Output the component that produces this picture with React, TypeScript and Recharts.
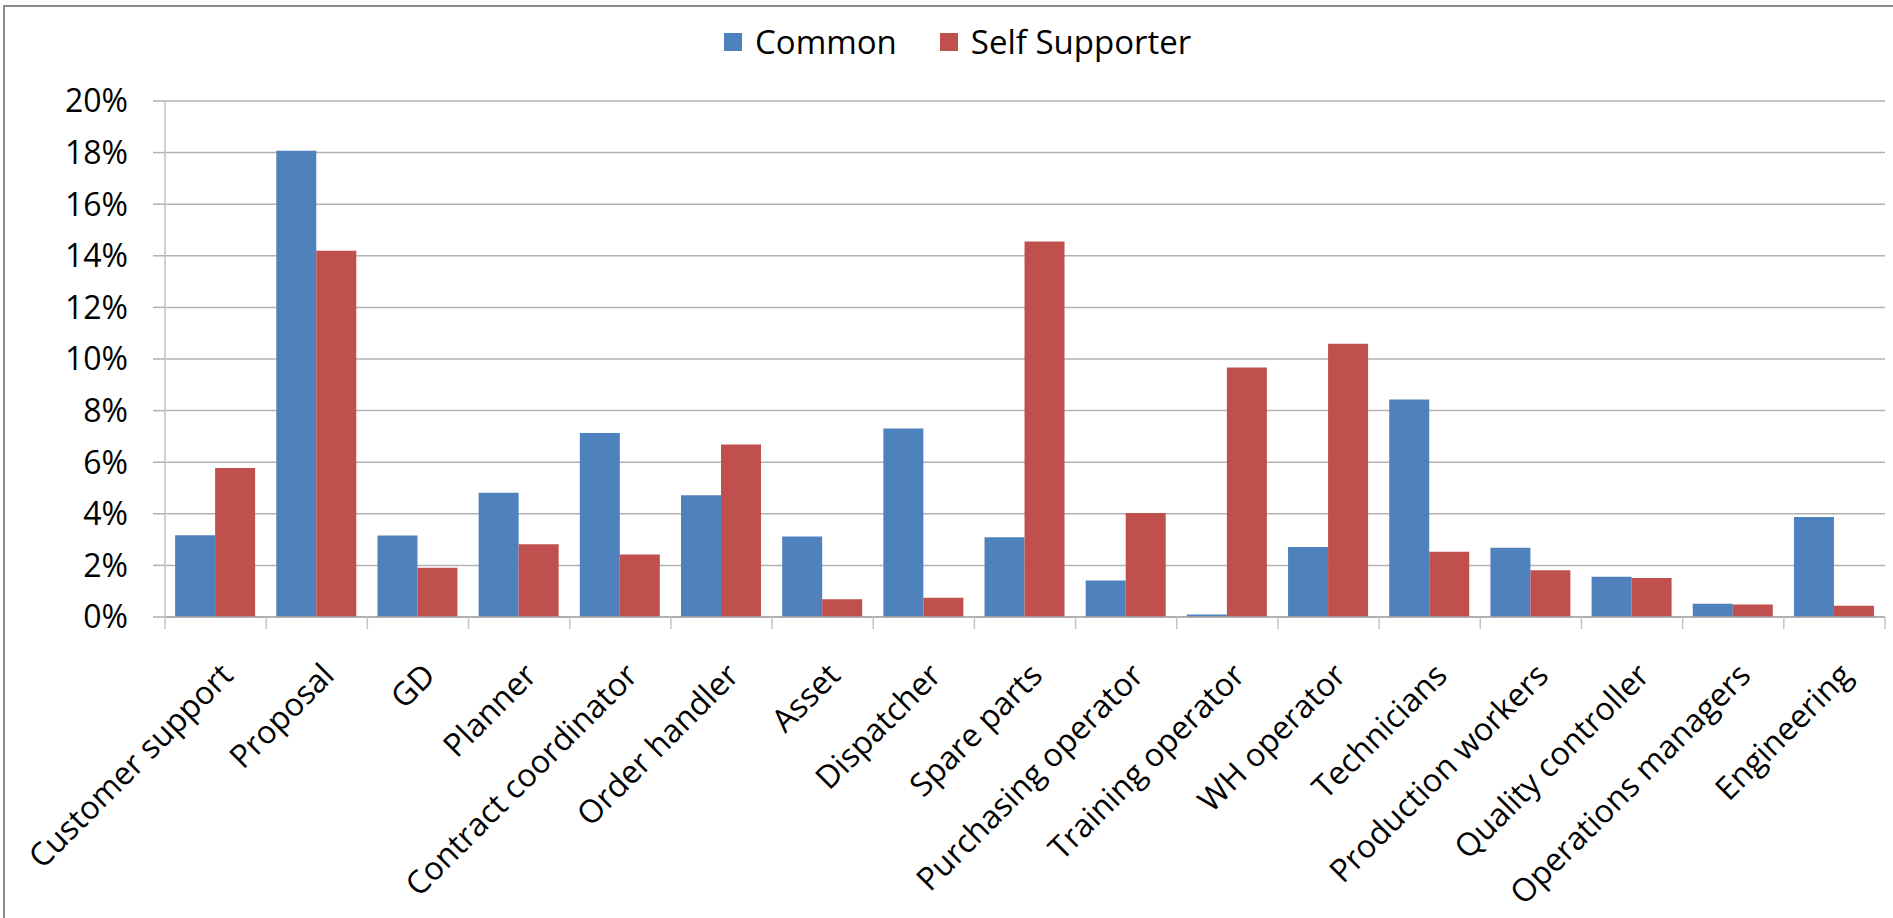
import React from "react";
import { BarChart, Bar, XAxis, YAxis, CartesianGrid, Legend } from "recharts";

const categories = [
  "Customer support",
  "Proposal",
  "GD",
  "Planner",
  "Contract coordinator",
  "Order handler",
  "Asset",
  "Dispatcher",
  "Spare parts",
  "Purchasing operator",
  "Training operator",
  "WH operator",
  "Technicians",
  "Production workers",
  "Quality controller",
  "Operations managers",
  "Engineering",
];
const commonValues = [3.17, 18.07, 3.16, 4.82, 7.13, 4.72, 3.12, 7.31, 3.09, 1.41, 0.1, 2.71, 8.43, 2.68, 1.56, 0.51, 3.88];
const selfSupporterValues = [5.78, 14.2, 1.91, 2.82, 2.42, 6.69, 0.69, 0.75, 14.55, 4.03, 9.67, 10.59, 2.53, 1.81, 1.51, 0.48, 0.44];
const yTicks = [0, 2, 4, 6, 8, 10, 12, 14, 16, 18, 20];
const seriesNames = ["Common", "Self Supporter"];

const BLUE = "#4F81BD";
const RED = "#C0504D";
const FONT = "'Open Sans', sans-serif";

const data = categories.map((c, i) => ({
  name: c,
  common: commonValues[i],
  self: selfSupporterValues[i],
}));

const CategoryTick = (props: any) => {
  const { x, y, payload, index } = props;
  const half = payload && payload.offset ? payload.offset : 50.6;
  const isLast = index === categories.length - 1;
  return (
    <g>
      <line x1={x - half} y1={y} x2={x - half} y2={y + 12} stroke="#c4c4c4" strokeWidth={1.5} />
      {isLast && <line x1={x + half} y1={y} x2={x + half} y2={y + 12} stroke="#c4c4c4" strokeWidth={1.5} />}
      <text
        x={0}
        y={0}
        dy="0.72em"
        textAnchor="end"
        transform={`translate(${x + 3},${y + 44}) rotate(-45)`}
        fontFamily={FONT}
        fontSize={32}
        fill="#000"
      >
        {payload.value}
      </text>
    </g>
  );
};

const LegendContent = () => (
  <div
    style={{
      display: "flex",
      alignItems: "center",
      height: 40,
      lineHeight: "40px",
      fontFamily: FONT,
      fontSize: 33,
      color: "#000",
      whiteSpace: "nowrap",
    }}
  >
    <span style={{ display: "inline-block", width: 18, height: 18, background: BLUE, marginRight: 13 }} />
    <span>{seriesNames[0]}</span>
    <span style={{ display: "inline-block", width: 18, height: 18, background: RED, marginLeft: 43, marginRight: 13 }} />
    <span>{seriesNames[1]}</span>
  </div>
);

export default function App() {
  return (
    <div
      style={{
        position: "absolute",
        left: 0,
        top: 0,
        width: 1893,
        height: 918,
        overflow: "hidden",
        background: "#fff",
      }}
    >
      <div
        style={{
          position: "absolute",
          left: 3,
          top: 5,
          width: 2000,
          height: 1000,
          borderLeft: "2px solid #8a8a8a",
          borderTop: "2px solid #8a8a8a",
        }}
      />
      <div style={{ position: "absolute", left: 0, top: 0 }}>
        <BarChart
          width={1893}
          height={918}
          data={data}
          margin={{ top: 61, right: 8, bottom: 0, left: 0 }}
          barCategoryGap="10%"
          barGap={0}
        >
          <CartesianGrid vertical={false} stroke="#b2b2b2" strokeWidth={1.5} />
          <Legend verticalAlign="top" content={<LegendContent />} wrapperStyle={{ top: 22, left: 724, width: "auto" }} />
          <XAxis
            dataKey="name"
            interval={0}
            height={301}
            tickSize={0}
            tickMargin={0}
            tickLine={false}
            axisLine={{ stroke: "#a8a8a8", strokeWidth: 1.5 }}
            tick={<CategoryTick />}
          />
          <YAxis
            width={165}
            domain={[0, 20]}
            ticks={yTicks}
            interval={0}
            tickFormatter={(v: number) => `${v}%`}
            tickSize={12}
            tickMargin={25}
            tickLine={{ stroke: "#b2b2b2", strokeWidth: 1.5 }}
            axisLine={{ stroke: "#cfcfcf", strokeWidth: 2 }}
            tick={{ fontFamily: FONT, fontSize: 32, fill: "#000" }}
          />
          <Bar dataKey="common" name={seriesNames[0]} fill={BLUE} isAnimationActive={false} />
          <Bar dataKey="self" name={seriesNames[1]} fill={RED} isAnimationActive={false} />
        </BarChart>
      </div>
    </div>
  );
}
